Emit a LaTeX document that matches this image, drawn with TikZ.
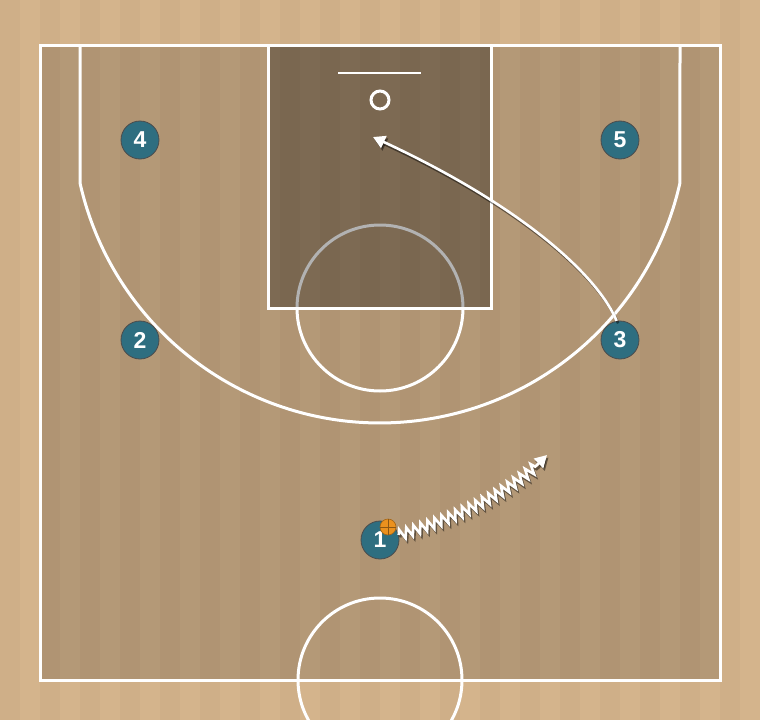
\documentclass[tikz,border=0pt]{standalone}
\usepackage{fontspec}
\setmainfont{Liberation Sans}
\usetikzlibrary{arrows.meta,decorations.pathmorphing}
\definecolor{wood}{RGB}{212,180,140}
\definecolor{playerblue}{RGB}{46,110,128}
\definecolor{ballorange}{RGB}{235,145,30}
\begin{document}
\begin{tikzpicture}[x=1pt,y=-1pt,
  court/.style={draw=white, line width=3pt},
  player/.style={circle, fill=playerblue, draw=black!70, line width=0.8pt, minimum size=38pt, inner sep=0pt, text=white, font=\bfseries\fontsize{23}{23}\selectfont},
  ball/.style={circle, fill=ballorange, draw=ballorange!70!black, line width=0.6pt, minimum size=16pt, inner sep=0pt},
  move/.style={draw=white, line width=2.6pt, -{Triangle[width=13pt,length=12pt]}},
  dribble/.style={move, decorate, decoration={zigzag, segment length=7.5pt, amplitude=5pt, post length=15pt}},
  shadow/.style={draw=black, opacity=0.45, transform canvas={xshift=1.5pt, yshift=-2.5pt}}]
% floor
\clip (0,0) rectangle (760,720);
\fill[wood] (0,0) rectangle (760,720);
\foreach \i in {0,2,...,36}
  \fill[black, opacity=0.025] (\i*20,0) rectangle ++(20,720);
\fill[black, opacity=0.15] (40,45) rectangle (720,680);
% court lines
\draw[court] (380,308) circle (83);
\fill[black, opacity=0.3] (268,45) rectangle (491,308);
\draw[court] (268,45) rectangle (491,308);
\draw[court] (40,45) rectangle (720,680);
\draw[court] (80,45) -- (80,183) arc[start angle=167.3, end angle=12.7, radius=307.5] -- (680,45);
\draw[court] (380,680) circle (82);
\draw[court, line width=2pt] (338,73) -- (421,73);
\draw[court, line width=3pt] (380,100) circle (9);
% players
\node[player] (p4) at (140,140) {4};
\node[player] (p5) at (620,140) {5};
\node[player] (p2) at (140,340) {2};
\node[player] (p3) at (620,340) {3};
\node[player] (p1) at (380,540) {1};
\node[ball] (ball) at (388,527) {};
\draw[ballorange!60!black, line width=0.5pt] (ball.north) -- (ball.south) (ball.west) -- (ball.east);
% cut 3
\coordinate (cutend) at (373,137);
\draw[move, shadow] (p3.100) .. controls (600,280) and (530,210) .. (cutend);
\draw[move] (p3.100) .. controls (600,280) and (530,210) .. (cutend);
% dribble 1
\coordinate (dribend) at (547,455);
\draw[dribble, shadow] (p1.15) .. controls (450,520) and (510,495) .. (dribend);
\draw[dribble] (p1.15) .. controls (450,520) and (510,495) .. (dribend);
\end{tikzpicture}
\end{document}
